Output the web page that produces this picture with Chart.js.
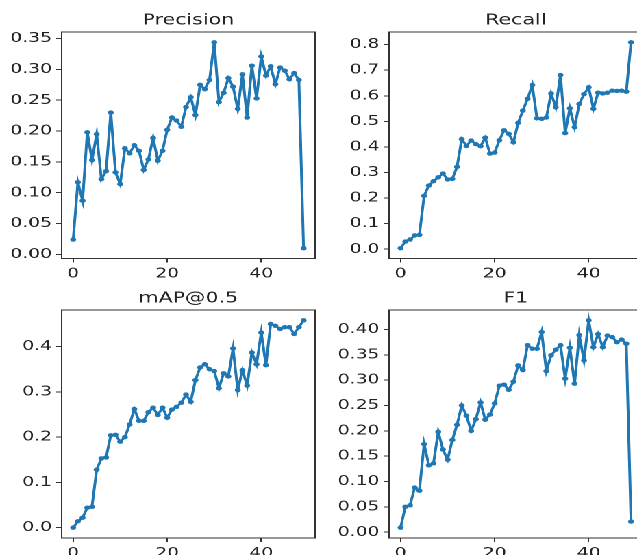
<!DOCTYPE html>
<html><head><meta charset="utf-8">
<script src="https://cdn.jsdelivr.net/npm/chart.js@4.4.1/dist/chart.umd.min.js"></script>
<style>
html,body{margin:0;padding:0;overflow:hidden;background:#fff;width:637px;height:555px;}
#wrap{position:absolute;left:0;top:0;width:480px;height:555px;transform:scaleX(1.37);transform-origin:0 0;}
canvas{position:absolute;}
</style></head><body><div id="wrap"></div>
<script>
const epochs=[0,1,2,3,4,5,6,7,8,9,10,11,12,13,14,15,16,17,18,19,20,21,22,23,24,25,26,27,28,29,30,31,32,33,34,35,36,37,38,39,40,41,42,43,44,45,46,47,48,49];
const precision=[0.024,0.117,0.087,0.198,0.153,0.195,0.122,0.135,0.230,0.133,
0.114,0.172,0.164,0.177,0.168,0.137,0.154,0.189,0.152,0.168,
0.202,0.222,0.217,0.207,0.239,0.255,0.226,0.275,0.268,0.283,
0.344,0.247,0.262,0.286,0.272,0.236,0.292,0.222,0.306,0.253,
0.321,0.290,0.305,0.276,0.303,0.298,0.284,0.294,0.283,0.010];
const recall=[0.004,0.030,0.038,0.054,0.056,0.209,0.249,0.266,0.281,0.296,
0.273,0.275,0.322,0.430,0.404,0.425,0.411,0.403,0.436,0.374,
0.378,0.426,0.465,0.451,0.418,0.494,0.542,0.588,0.642,0.512,
0.510,0.515,0.609,0.555,0.681,0.454,0.551,0.477,0.568,0.606,
0.633,0.549,0.612,0.609,0.612,0.620,0.619,0.620,0.616,0.809];
const mAP50=[0.000,0.014,0.022,0.044,0.046,0.128,0.153,0.155,0.204,0.205,
0.190,0.200,0.228,0.262,0.236,0.236,0.255,0.265,0.249,0.265,
0.243,0.261,0.267,0.276,0.294,0.278,0.326,0.354,0.361,0.350,
0.346,0.308,0.341,0.334,0.396,0.304,0.348,0.314,0.387,0.361,
0.431,0.359,0.450,0.446,0.439,0.443,0.443,0.428,0.443,0.458];
const f1=[0.009,0.050,0.053,0.088,0.082,0.174,0.132,0.136,0.198,0.163,
0.143,0.182,0.212,0.250,0.230,0.200,0.223,0.256,0.222,0.232,
0.254,0.289,0.291,0.281,0.297,0.329,0.320,0.369,0.362,0.362,
0.395,0.318,0.349,0.360,0.369,0.303,0.364,0.293,0.389,0.339,
0.418,0.365,0.391,0.365,0.388,0.385,0.375,0.380,0.372,0.021];
const xTicks=[0,20,40];
const precisionTicks=[0.00,0.05,0.10,0.15,0.20,0.25,0.30,0.35];
const recallTicks=[0.0,0.1,0.2,0.3,0.4,0.5,0.6,0.7,0.8];
const mapTicks=[0.0,0.1,0.2,0.3,0.4];
const f1Ticks=[0.00,0.05,0.10,0.15,0.20,0.25,0.30,0.35,0.40];
const titles=['Precision','Recall','mAP@0.5','F1'];

const K=1.37;
const panels=[
 {title:titles[0],vals:precision,ticks:precisionTicks,dec:2,L:62,R:318,T:32,B:258.5},
 {title:titles[1],vals:recall,ticks:recallTicks,dec:1,L:389,R:645,T:32,B:258.5},
 {title:titles[2],vals:mAP50,ticks:mapTicks,dec:1,L:62,R:318,T:310,B:538},
 {title:titles[3],vals:f1,ticks:f1Ticks,dec:2,L:389,R:645,T:310,B:538}
];
const FONT='"DejaVu Sans", sans-serif';
const TXT='#222';
const SPINE='#333';
const frame={id:'frame',afterDatasetsDraw(c){const a=c.chartArea,ctx=c.ctx;ctx.save();ctx.strokeStyle=SPINE;ctx.lineWidth=1;ctx.strokeRect(a.left,a.top,a.right-a.left,a.bottom-a.top);ctx.restore();}};
const wrap=document.getElementById('wrap');
panels.forEach(p=>{
  const yW=44,titleH=30;
  const areaW=(p.R-p.L)/K, areaH=p.B-p.T;
  const left=p.L/K-yW;
  const w=Math.ceil(yW+areaW+2);
  const padR=w-yW-areaW;
  const h=Math.ceil(titleH+areaH+26);
  const xH=h-titleH-areaH;
  const cv=document.createElement('canvas');
  cv.width=w;cv.height=h;
  cv.style.left=left+'px';cv.style.top=(p.T-titleH)+'px';
  cv.style.width=w+'px';cv.style.height=h+'px';
  wrap.appendChild(cv);
  const mn=Math.min(...p.vals),mx=Math.max(...p.vals),m=0.05*(mx-mn);
  const xm=0.05*(epochs[epochs.length-1]-epochs[0]);
  new Chart(cv,{
    type:'line',
    data:{datasets:[{data:epochs.map((x,i)=>({x:x,y:p.vals[i]})),borderColor:'#1f77b4',backgroundColor:'#1f77b4',borderWidth:2,pointRadius:2.2,pointBorderWidth:0,pointBackgroundColor:'#1f77b4',tension:0}]},
    options:{
      responsive:false,animation:false,devicePixelRatio:2,
      layout:{padding:{left:0,right:padR,top:0,bottom:0}},
      plugins:{legend:{display:false},tooltip:{enabled:false},
        title:{display:true,text:p.title,fullSize:false,color:TXT,font:{family:FONT,size:15,weight:'normal'},padding:{top:9.5,bottom:2.5}}},
      scales:{
        x:{type:'linear',min:epochs[0]-xm,max:epochs[epochs.length-1]+xm,
          afterBuildTicks:s=>{s.ticks=xTicks.map(v=>({value:v}));},
          afterFit:s=>{s.height=xH;},
          border:{display:false},
          grid:{drawOnChartArea:false,drawTicks:true,tickLength:4,color:SPINE,lineWidth:1},
          ticks:{color:TXT,font:{family:FONT,size:13.7},padding:3,maxRotation:0,autoSkip:false,callback:v=>String(v)}},
        y:{type:'linear',min:mn-m,max:mx+m,
          afterBuildTicks:s=>{s.ticks=p.ticks.map(v=>({value:v}));},
          afterFit:s=>{s.width=yW;},
          border:{display:false},
          grid:{drawOnChartArea:false,drawTicks:true,tickLength:4,color:SPINE,lineWidth:1},
          ticks:{color:TXT,font:{family:FONT,size:13.7},padding:3,autoSkip:false,callback:v=>v.toFixed(p.dec)}}
      }
    },
    plugins:[frame]
  });
});
</script></body></html>
